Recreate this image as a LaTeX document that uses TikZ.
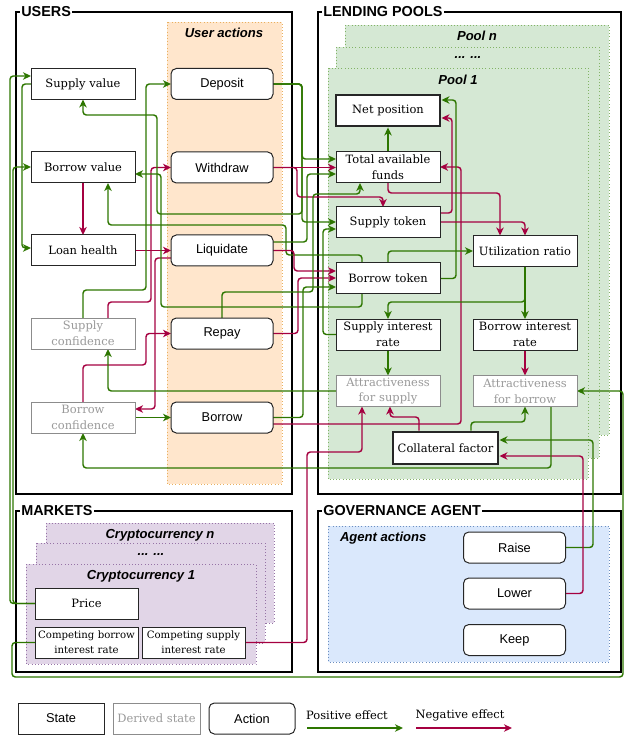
\documentclass[tikz,border=0pt]{standalone}
\usepackage{fontspec}
\setmainfont{DejaVu Serif}
\newfontfamily\hv{Liberation Sans}
\usetikzlibrary{arrows.meta}
\definecolor{pg}{HTML}{2D7600}
\definecolor{nr}{HTML}{A50040}
\definecolor{orfill}{HTML}{FFE6CC}
\definecolor{ordraw}{HTML}{E8B060}
\definecolor{grfill}{HTML}{D5E8D4}
\definecolor{grdraw}{HTML}{82B366}
\definecolor{pufill}{HTML}{E1D5E7}
\definecolor{pudraw}{HTML}{9673A6}
\definecolor{blfill}{HTML}{DAE8FC}
\definecolor{bldraw}{HTML}{6C8EBF}
\definecolor{dgray}{HTML}{9A9A9A}
\newcommand\stf{\fontsize{8.6}{11.8}\selectfont}
\newcommand\smf{\fontsize{7.6}{11.5}\selectfont}
\newcommand\acf{\hv\fontsize{9.6}{11}\selectfont}
\newcommand\ttlf{\hv\bfseries\fontsize{10.8}{12}\selectfont}
\newcommand\bif{\hv\bfseries\itshape\fontsize{9.8}{11}\selectfont}
\pgfdeclarelayer{bg}
\pgfdeclarelayer{conn}
\pgfsetlayers{bg,conn,main}
\begin{document}
\begin{tikzpicture}[x=0.75pt,y=-0.75pt,
 every node/.style={inner sep=0pt, outer sep=0pt},
 sbox/.style={draw=black!85, fill=white, line width=0.75pt, minimum width=78pt, minimum height=23.25pt, align=center, text width=75pt, font=\stf},
 dbox/.style={sbox, draw=black!45, text=dgray},
 tbox/.style={sbox, line width=2.2pt, outer sep=1.1pt},
 abox/.style={draw=black!85, fill=white, line width=0.75pt, rounded corners=4pt, minimum width=76.5pt, minimum height=23.25pt, align=center, font=\acf},
 frame/.style={draw=black, line width=1.1pt},
 ftitle/.style={fill=white, anchor=west, inner xsep=1pt, font=\ttlf},
 ptitle/.style={font=\bif},
 posl/.style={draw=pg, line width=1.1pt, rounded corners=2.5pt, -{Stealth[length=6pt,width=5.6pt,inset=1.8pt]}},
 negl/.style={posl, draw=nr},
]
\useasboundingbox (0,0) rectangle (625,737);
% ---------- nodes
\node[sbox] (sv) at (83,84) {Supply value};
\node[sbox] (bv) at (83,167.5) {Borrow value};
\node[sbox] (lh) at (83,250.5) {Loan health};
\node[dbox] (sc) at (83,333.5) {Supply\\confidence};
\node[dbox] (bc) at (83,417.5) {Borrow\\confidence};
\node[abox] (dep) at (222,84) {Deposit};
\node[abox] (wd) at (222,167.5) {Withdraw};
\node[abox] (liq) at (222,250.5) {Liquidate};
\node[abox] (rep) at (222,333.5) {Repay};
\node[abox] (bor) at (222,417.5) {Borrow};
\node[tbox] (np) at (388,110.5) {Net position};
\node[sbox] (taf) at (388,167.5) {Total available\\funds};
\node[sbox] (st) at (388,222.5) {Supply token};
\node[sbox] (bt) at (388,278.5) {Borrow token};
\node[sbox] (sir) at (388,334.5) {Supply interest\\rate};
\node[dbox] (afs) at (388,391) {Attractiveness\\for supply};
\node[sbox] (ur) at (525,251) {Utilization ratio};
\node[sbox] (bir) at (525,334.5) {Borrow interest\\rate};
\node[dbox] (afb) at (525,391) {Attractiveness\\for borrow};
\node[tbox, minimum width=78.75pt, minimum height=24pt] (cf) at (445.5,448) {Collateral factor};
\node[sbox, minimum width=77.25pt] (price) at (86.5,603.5) {Price};
\node[sbox, minimum width=77.25pt, font=\smf] (cbir) at (86.5,642.5) {Competing borrow\\interest rate};
\node[sbox, minimum width=77.25pt, font=\smf] (csir) at (193.5,642.5) {Competing supply\\interest rate};
\node[abox] (raise) at (514.5,547.5) {Raise};
\node[abox] (lower) at (514.5,593.5) {Lower};
\node[abox] (keep) at (514.5,640) {Keep};
% legend
\node[sbox, minimum width=64.5pt, text width=60pt, font=\acf] (lgs) at (61,718.5) {State};
\node[dbox, minimum width=65.25pt, text width=62pt] (lgd) at (156.5,718.5) {Derived state};
\node[abox, minimum width=64.5pt] (lga) at (252,718.5) {Action};
\coordinate (lp1) at (307,728); \coordinate (lp2) at (403,728);
\coordinate (ln1) at (416,728); \coordinate (ln2) at (512,728);
\node[font=\stf] (lpt) at (347,715) {Positive effect};
\node[font=\stf] (lnt) at (460,715) {Negative effect};
% ---------- background
\begin{pgfonlayer}{bg}
\draw[frame] (16,12) rectangle (292,494);
\node[ftitle] at (20,12) {USERS};
\draw[frame] (318,12) rectangle (621,494);
\node[ftitle] at (322,12) {LENDING POOLS};
\draw[frame] (16,511) rectangle (292,672);
\node[ftitle] at (20,511) {MARKETS};
\draw[frame] (318,511) rectangle (621,672);
\node[ftitle] at (322,511) {GOVERNANCE AGENT};
\filldraw[fill=orfill, draw=ordraw, dotted] (167,22) rectangle (282,484);
\node[ptitle] at (224,33) {User actions};
\filldraw[fill=grfill, draw=grdraw, dotted] (345,25) rectangle (609,435);
\node[ptitle] at (477,36) {Pool n};
\filldraw[fill=grfill, draw=grdraw, dotted] (336,47) rectangle (599,458);
\node[ptitle] at (468,58) {... ...};
\filldraw[fill=grfill, draw=grdraw, dotted] (328,68) rectangle (588,479);
\node[ptitle] at (458,80) {Pool 1};
\filldraw[fill=pufill, draw=pudraw, dotted] (46,523) rectangle (274,623);
\node[ptitle] at (160,535) {Cryptocurrency n};
\filldraw[fill=pufill, draw=pudraw, dotted] (36,543) rectangle (265,643);
\node[ptitle] at (151,555) {... ...};
\filldraw[fill=pufill, draw=pudraw, dotted] (26,564) rectangle (256,664);
\node[ptitle] at (141,576) {Cryptocurrency 1};
\filldraw[fill=blfill, draw=bldraw, dotted] (328,526) rectangle (609,662);
\node[ptitle, anchor=west] at (340,538) {Agent actions};
\end{pgfonlayer}
% ---------- connectors
\begin{pgfonlayer}{conn}
\draw[posl] (price.west) -| (10,76) -- (sv.west |- 0,76);
\draw[posl] (price.west) -| (13,167) -- (bv.west |- 0,167);
\draw[posl] (sv.west) -| (22,248) -- (lh.west |- 0,248);
\draw[negl] (bv.south) -- (lh.north);
\draw[negl] (lh.east) -- (liq.west);
\draw[posl] (sc.north) |- (146,290) |- (dep.west);
\draw[negl] (sc.north -| 108,0) |- (151,302) |- (wd.west);
\draw[negl] (liq.west |- 0,258) -| (155,409) -- (bc.east |- 0,409);
\draw[negl] (bc.north) |- (146,365) |- (rep.west);
\draw[posl] (bc.east) -- (bor.west);
\draw[posl] (dep.east) -| (302,214) -- (157,214) |- (83,115) -- (sv.south);
\draw[posl] (bt.north -| 362,0) |- (286,255) -- (286,225) -| (bv.south -| 108,0);
\draw[posl] (bt.south -| 362,0) |- (161,307) |- (bv.east |- 0,174);
\draw[posl] (dep.east) -| (302,159) -- (taf.west |- 0,159);
\draw[posl] (dep.east) -| (302,222) -- (st.west |- 0,222);
\draw[negl] (wd.east) -- (taf.west);
\draw[negl] (wd.east) -| (297,197) -| (st.north -| 383,0);
\draw[posl] (liq.east |- 0,242) -| (307,174) -- (taf.west |- 0,174);
\draw[negl] (liq.east) -| (294,271) -- (bt.west |- 0,271);
\draw[negl] (rep.east) -| (298,278) -- (bt.west |- 0,278);
\draw[posl] (rep.north) |- (313,292) -- (313,194) -| (taf.south -| 360,0);
\draw[posl] (bor.east) -| (303,287) -- (bt.west |- 0,287);
\draw[negl] (bor.east |- 0,424) -| (461,167) -- (taf.east |- 0,167);
\draw[posl] (sir.west) -| (323,229) -- (st.west |- 0,229);
\draw[posl] (taf.north) -- (np.south);
\draw[posl] (bt.east) -| (456,100) -- (np.east |- 0,100);
\draw[negl] (st.east |- 0,213) -| (452,118) -- (np.east |- 0,118);
\draw[negl] (taf.south) |- (500,193) -- (ur.north -| 500,0);
\draw[negl] (st.east |- 0,222) -| (ur.north);
\draw[posl] (bt.north) |- (ur.west);
\draw[posl] (ur.south) -- (bir.north);
\draw[posl] (ur.south) |- (388,302) -- (sir.north);
\draw[posl] (sir.south) -- (afs.north);
\draw[negl] (bir.south) -- (afb.north);
\draw[negl] (cf.north -| 419,0) |- (390,417) -- (afs.south -| 390,0);
\draw[negl] (csir.east) -| (307,452) -| (afs.south -| 362,0);
\draw[posl] (cf.north -| 471,0) -- (471,422) -| (afb.south);
\draw[posl] (raise.east) -| (593,440) -- (cf.east |- 0,440);
\draw[negl] (lower.east) -| (583,456) -- (cf.east |- 0,456);
\draw[posl] (afb.south -| 551,0) |- (83,468) -- (bc.south);
\draw[posl] (afs.west) -| (sc.south -| 108,0);
\draw[posl] (cbir.west) -| (12,677) -| (623,391) -- (afb.east);
\draw[posl] (lp1) -- (lp2);
\draw[negl] (ln1) -- (ln2);
\end{pgfonlayer}
\end{tikzpicture}
\end{document}
